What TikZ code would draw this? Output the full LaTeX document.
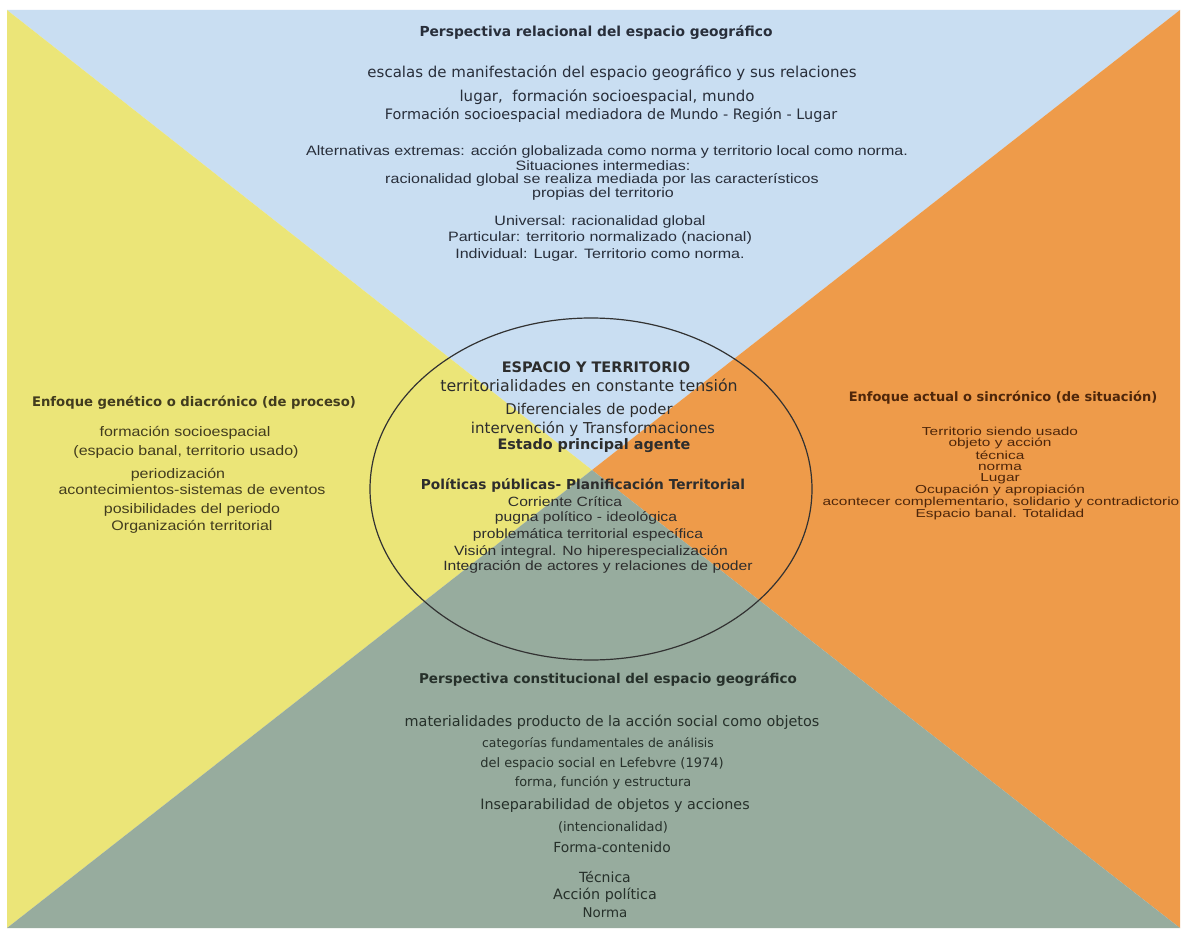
\documentclass[tikz,border=0pt]{standalone}
\usepackage{fontspec}
\usepackage{graphicx}
\setmainfont{Liberation Sans}
\newfontfamily\dvs{DejaVu Sans}
\newcommand\SX[2]{\scalebox{#1}[1]{#2}}
\definecolor{blueq}{RGB}{201,222,242}
\definecolor{yellq}{RGB}{235,229,120}
\definecolor{orq}{RGB}{238,155,74}
\definecolor{grq}{RGB}{151,172,158}
\definecolor{topc}{RGB}{40,46,58}
\definecolor{leftc}{RGB}{66,60,30}
\definecolor{rightc}{RGB}{78,38,10}
\definecolor{botc}{RGB}{38,48,42}
\definecolor{cenc}{RGB}{45,45,45}
\definecolor{elc}{RGB}{50,50,50}
\tikzset{
  tx/.style={inner sep=0pt, anchor=center},
  bd/.style={tx, font=\dvs\bfseries\fontsize{#1}{#1}\selectfont},
  hb/.style={tx, font=\dvs\fontsize{#1}{#1}\selectfont},
  ar/.style={tx, font=\fontsize{#1}{#1}\selectfont},
}
\begin{document}
\begin{tikzpicture}[x=1pt,y=-1pt]
\useasboundingbox (0,0) rectangle (1184,934);
\fill[white] (0,0) rectangle (1184,934);
\coordinate (TL) at (7,10);
\coordinate (TR) at (1180,10);
\coordinate (BR) at (1180,928);
\coordinate (BL) at (7,928);
\coordinate (C) at (592,470);
\fill[blueq] (TL) -- (TR) -- (C) -- cycle;
\fill[yellq] (TL) -- (C) -- (BL) -- cycle;
\fill[orq] (TR) -- (BR) -- (C) -- cycle;
\fill[grq] (BL) -- (C) -- (BR) -- cycle;
\draw[elc, line width=1.2pt] (591,489) ellipse [x radius=221, y radius=171];

% top
\begin{scope}[text=topc]
\node[bd=13.8] (t1) at (596,32) {Perspectiva relacional del espacio geográfico};
\node[hb=15] (t2) at (612,73) {escalas de manifestación del espacio geográfico y sus relaciones};
\node[hb=15] (t3) at (607,97) {lugar,~ formación socioespacial, mundo};
\node[hb=14.4] (t4) at (611,115) {Formación socioespacial mediadora de Mundo - Región - Lugar};
\node[ar=13.6] (t5) at (607,152) {\SX{1.18}{Alternativas extremas: acción globalizada como norma y territorio local como norma.}};
\node[ar=13.6] (t6) at (603,166) {\SX{1.18}{Situaciones intermedias:}};
\node[ar=13.6] (t7) at (602,180) {\SX{1.18}{racionalidad global se realiza mediada por las característicos}};
\node[ar=13.6] (t8) at (603,194) {\SX{1.18}{propias del territorio}};
\node[ar=13.6] (t9) at (600,222) {\SX{1.18}{Universal: racionalidad global}};
\node[ar=13.6] (t10) at (600,238) {\SX{1.18}{Particular: territorio normalizado (nacional)}};
\node[ar=13.6] (t11) at (600,255) {\SX{1.18}{Individual: Lugar. Territorio como norma.}};
\end{scope}

% left
\begin{scope}[text=leftc]
\node[bd=13.2] (l1) at (194,403) {Enfoque genético o diacrónico (de proceso)};
\node[ar=13.8] (l2) at (185,433) {\SX{1.16}{formación socioespacial}};
\node[ar=13.8] (l3) at (186,452) {\SX{1.16}{(espacio banal, territorio usado)}};
\node[ar=13.8] (l4) at (178,475) {\SX{1.16}{periodización}};
\node[ar=13.8] (l5) at (192,490) {\SX{1.16}{acontecimientos-sistemas de eventos}};
\node[ar=13.8] (l6) at (192,510) {\SX{1.16}{posibilidades del periodo}};
\node[ar=13.8] (l7) at (192,527) {\SX{1.16}{Organización territorial}};
\end{scope}

% right
\begin{scope}[text=rightc]
\node[bd=13.0] (r1) at (1003,398) {Enfoque actual o sincrónico (de situación)};
\node[ar=11.6] (r2) at (1000,431) {\SX{1.33}{Territorio siendo usado}};
\node[ar=11.6] (r3) at (1000,443) {\SX{1.33}{objeto y acción}};
\node[ar=11.6] (r4) at (1000,455.5) {\SX{1.33}{técnica}};
\node[ar=11.6] (r5) at (1000,467) {\SX{1.33}{norma}};
\node[ar=11.6] (r6) at (1000,478.5) {\SX{1.33}{Lugar}};
\node[ar=11.6] (r7) at (1000,490) {\SX{1.33}{Ocupación y apropiación}};
\node[ar=11.6] (r8) at (1001,502) {\SX{1.33}{acontecer complementario, solidario y contradictorio}};
\node[ar=11.6] (r9) at (1000,514) {\SX{1.33}{Espacio banal. Totalidad}};
\end{scope}

% centre
\begin{scope}[text=cenc]
\node[bd=14.5] (c1) at (596,367) {ESPACIO Y TERRITORIO};
\node[hb=15.8] (c2) at (589,385) {territorialidades en constante tensión};
\node[hb=14.8] (c3) at (589,410) {Diferenciales de poder};
\node[hb=15] (c4) at (593,429) {intervención y Transformaciones};
\node[bd=14.4] (c5) at (594,446) {Estado principal agente};
\node[bd=13.7] (c6) at (583,485) {Políticas públicas- Planificación Territorial};
\node[ar=13.4] (c7) at (565,502) {\SX{1.17}{Corriente Crítica}};
\node[ar=13.4] (c8) at (586,518) {\SX{1.17}{pugna político - ideológica}};
\node[ar=13.4] (c9) at (588,535) {\SX{1.17}{problemática territorial específica}};
\node[ar=13.4] (c10) at (591,552) {\SX{1.17}{Visión integral. No hiperespecialización}};
\node[ar=13.4] (c11) at (598,567) {\SX{1.17}{Integración de actores y relaciones de poder}};
\end{scope}

% bottom
\begin{scope}[text=botc]
\node[bd=13.5] (b1) at (608,680) {Perspectiva constitucional del espacio geográfico};
\node[hb=14.4] (b2) at (612,722) {materialidades producto de la acción social como objetos};
\node[hb=12.4] (b3) at (598,744) {categorías fundamentales de análisis};
\node[hb=13] (b4) at (602,764) {del espacio social en Lefebvre (1974)};
\node[hb=12.9] (b5) at (603,783) {forma, función y estructura};
\node[hb=14.3] (b6) at (615,806) {Inseparabilidad de objetos y acciones};
\node[hb=13] (b7) at (613,827) {(intencionalidad)};
\node[hb=13.9] (b8) at (612,847) {Forma-contenido};
\node[hb=14] (b9) at (605,877) {Técnica};
\node[hb=14.3] (b10) at (605,895) {Acción política};
\node[hb=13.4] (b11) at (605,913) {Norma};
\end{scope}
\end{tikzpicture}
\end{document}
